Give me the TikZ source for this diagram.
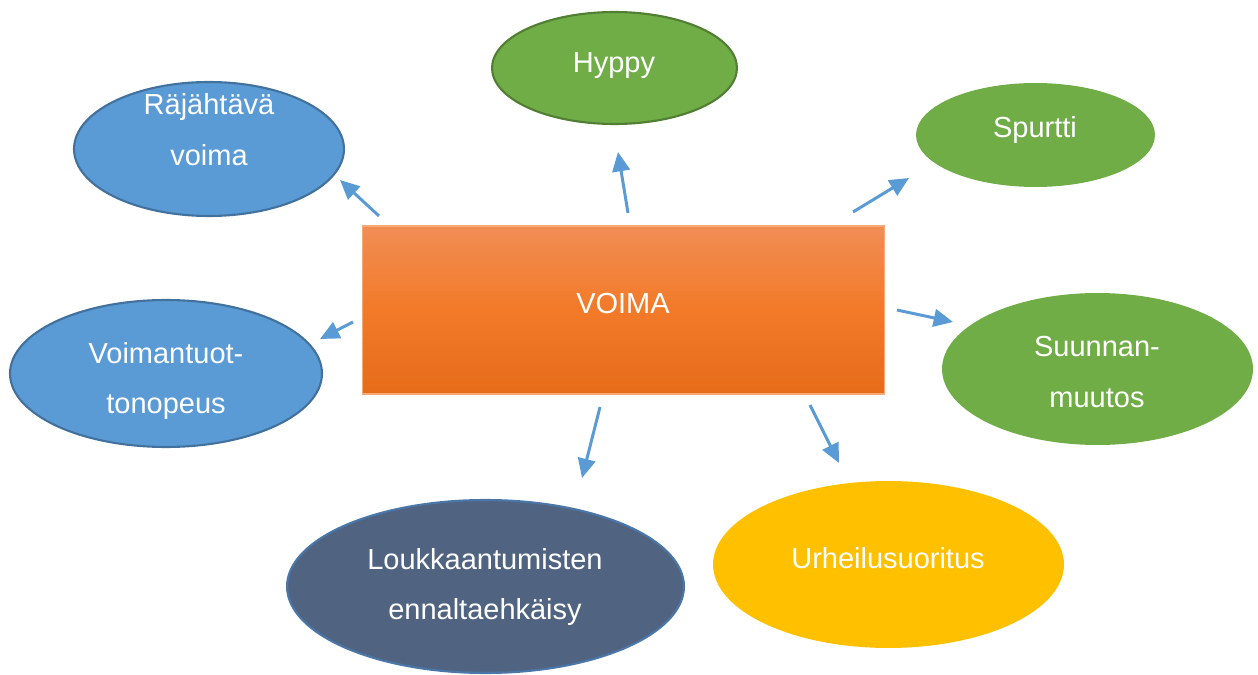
\documentclass[tikz,border=0pt]{standalone}
\usepackage{fontspec}
\setmainfont{Liberation Sans}
\usetikzlibrary{shapes.geometric,arrows.meta}
\definecolor{blueF}{HTML}{5B9BD5}
\definecolor{blueD}{HTML}{41719C}
\definecolor{greenF}{HTML}{70AD47}
\definecolor{greenD}{HTML}{507E32}
\definecolor{slateF}{HTML}{506482}
\definecolor{slateD}{HTML}{4A76A8}
\definecolor{goldF}{HTML}{FFC000}
\definecolor{orTop}{RGB}{241,141,85}
\definecolor{orMid}{RGB}{242,122,40}
\definecolor{orBot}{RGB}{230,108,26}
\definecolor{orEdge}{RGB}{245,170,120}
\tikzset{
  bubble/.style={ellipse, inner sep=0pt},
  lbl/.style={text=white, align=center, font=\fontsize{16.5}{29}\selectfont},
  link/.style={draw=blueF, line width=1.7pt, -{Triangle[length=11pt,width=10pt]}}
}
\begin{document}
\begin{tikzpicture}[x=0.02cm,y=-0.02cm]
\useasboundingbox (0,0) rectangle (1258,675);
% central box
\node[draw=orEdge, line width=0.6pt, top color=orTop, bottom color=orBot, middle color=orMid, shading=axis,
      minimum width=10.46cm, minimum height=3.36cm, inner sep=0pt] (voima) at (623.5,310) {};
\node[lbl] (voimat) at (623,304) {VOIMA};
% ellipses
\node[bubble, fill=blueF, draw=blueD, line width=1.2pt, minimum width=5.4cm, minimum height=2.68cm] (raj) at (209,149) {};
\node[lbl] (rajt) at (209,130) {Räjähtävä\\voima};
\node[bubble, fill=greenF, draw=greenD, line width=1.2pt, minimum width=4.9cm, minimum height=2.24cm] (hyp) at (614.5,68) {};
\node[lbl] (hypt) at (614,66) {Hyppy};
\node[bubble, fill=greenF, minimum width=4.78cm, minimum height=2.08cm] (spu) at (1035.5,135) {};
\node[lbl] (sput) at (1035,130) {Spurtti};
\node[bubble, fill=greenF, minimum width=6.22cm, minimum height=3.04cm] (suu) at (1097.5,369) {};
\node[lbl] (suut) at (1097,372) {Suunnan-\\muutos};
\node[bubble, fill=blueF, draw=blueD, line width=1.2pt, minimum width=6.24cm, minimum height=2.94cm] (voi) at (166,373.5) {};
\node[lbl] (voit) at (166,381) {Voimantuot-\\tonopeus};
\node[bubble, fill=slateF, draw=slateD, line width=1.2pt, minimum width=7.94cm, minimum height=3.46cm] (lou) at (485.5,586.5) {};
\node[lbl] (lout) at (485,587) {Loukkaantumisten\\ennaltaehkäisy};
\node[bubble, fill=goldF, minimum width=7.02cm, minimum height=3.34cm] (urh) at (888.5,564.5) {};
\node[lbl] (urht) at (888,558) {Urheilusuoritus};
% arrow end points
\coordinate (a1s) at (379,216); \coordinate (a1e) at (340,180);
\coordinate (a2s) at (628,213); \coordinate (a2e) at (618,152);
\coordinate (a3s) at (853,212); \coordinate (a3e) at (909,178);
\coordinate (a4s) at (897,310); \coordinate (a4e) at (953,322);
\coordinate (a5s) at (353,322); \coordinate (a5e) at (320,339);
\coordinate (a6s) at (600,407); \coordinate (a6e) at (582,478);
\coordinate (a7s) at (810,405); \coordinate (a7e) at (839,463);
\draw[link] (a1s) -- (a1e);
\draw[link] (a2s) -- (a2e);
\draw[link] (a3s) -- (a3e);
\draw[link] (a4s) -- (a4e);
\draw[link] (a5s) -- (a5e);
\draw[link] (a6s) -- (a6e);
\draw[link] (a7s) -- (a7e);
\end{tikzpicture}
\end{document}
